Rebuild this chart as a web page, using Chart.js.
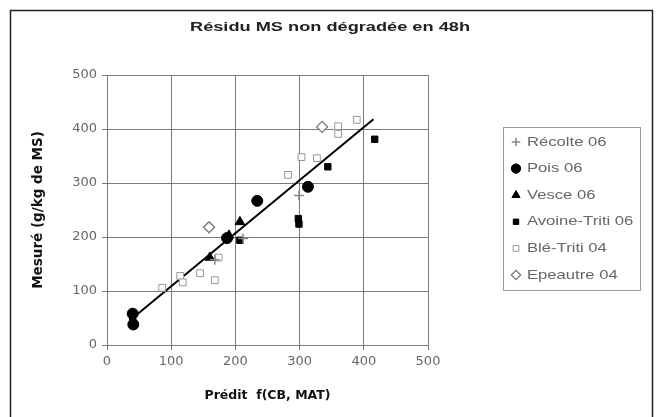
<!DOCTYPE html>
<html><head><meta charset="utf-8">
<script src="https://cdn.jsdelivr.net/npm/chart.js@4.4.0/dist/chart.umd.min.js"></script>
<style>html,body{margin:0;padding:0;background:#fff}#wrap{width:659px;height:417px}</style>
</head><body><div id="wrap"><canvas id="c" width="659" height="417"></canvas></div>
<script>
const chartTitle = 'Résidu MS non dégradée en 48h';
const seriesNames = ["Récolte 06","Pois 06","Vesce 06","Avoine-Triti 06","Blé-Triti 04","Epeautre 04"];
const recolte06 = [{x:299,y:277},{x:212,y:197},{x:168,y:158}];
const pois06 = [{x:40,y:58},{x:41,y:38},{x:187,y:198},{x:234,y:267},{x:313,y:293}];
const vesce06 = [{x:160,y:162},{x:207,y:228},{x:190,y:203}];
const avoineTriti06 = [{x:40,y:48},{x:207,y:194},{x:298,y:234},{x:299,y:224},{x:344,y:330},{x:417,y:381}];
const bleTriti04 = [{x:86,y:106},{x:114,y:128},{x:118,y:116},{x:145,y:133},{x:168,y:120},{x:174,y:162},{x:282,y:315},{x:303,y:348},{x:327,y:346},{x:360,y:405},{x:360,y:391},{x:389,y:417}];
const epeautre04 = [{x:159,y:218},{x:335,y:404}];
const regression = [{x:42,y:52},{x:415,y:418}];
const xTicks = [0,100,200,300,400,500];
const yTicks = [0,100,200,300,400,500];

const styles = [
  {pointStyle:'cross', radius:5, bg:'#888', border:'#888', bw:1.5},
  {pointStyle:'circle', radius:5.5, bg:'#000', border:'#000', bw:1},
  {pointStyle:'triangle', radius:5.5, bg:'#000', border:'#000', bw:1},
  {pointStyle:'rect', radius:4.5, bg:'#000', border:'#000', bw:1},
  {pointStyle:'rect', radius:4.8, bg:'#fff', border:'#999', bw:1},
  {pointStyle:'rectRot', radius:5.5, bg:'#fff', border:'#777', bw:1.3}
];
const dataArr = [recolte06,pois06,vesce06,avoineTriti06,bleTriti04,epeautre04];
const datasets = dataArr.map((d,i)=>({
  type:'scatter', label:seriesNames[i], data:d,
  pointStyle:styles[i].pointStyle, pointRadius:styles[i].radius,
  backgroundColor:styles[i].bg, borderColor:styles[i].border, borderWidth:styles[i].bw
}));
datasets.push({type:'line', label:'reg', data:regression, borderColor:'#000', borderWidth:2, pointRadius:0, fill:false});

function stretchedText(ctx, txt, x, y, sx, align){
  ctx.save();
  const w = ctx.measureText(txt).width*sx;
  let x0 = x;
  if(align==='center') x0 = x - w/2;
  ctx.translate(x0,y); ctx.scale(sx,1);
  ctx.textAlign='left';
  ctx.fillText(txt,0,0);
  ctx.restore();
}

const framePlugin = {
  id:'frame',
  afterDraw(chart){
    const ctx = chart.ctx;
    ctx.save();
    ctx.strokeStyle='#222'; ctx.lineWidth=1.5;
    ctx.strokeRect(10.5,10.5,642,420);
    // title
    ctx.font='bold 12px "Liberation Sans", Arial, sans-serif';
    ctx.fillStyle='#222'; ctx.textBaseline='middle';
    const tw = ctx.measureText(chartTitle).width;
    stretchedText(ctx, chartTitle, 330, 28, 280/tw, 'center');
    // legend box
    const lx=503, ly=127, lw=137, lh=163;
    ctx.strokeStyle='#999'; ctx.lineWidth=1;
    ctx.strokeRect(lx+0.5,ly+0.5,lw,lh);
    ctx.font='13px "Liberation Sans", Arial, sans-serif';
    ctx.textBaseline='middle';
    for(let i=0;i<seriesNames.length;i++){
      const cy = ly+15+i*26.6;
      const s = styles[i];
      ctx.fillStyle=s.bg; ctx.strokeStyle=s.border; ctx.lineWidth=s.bw;
      Chart.helpers.drawPoint(ctx,{pointStyle:s.pointStyle, radius:s.radius*0.85, borderWidth:s.bw}, lx+13, cy);
      ctx.fillStyle='#666';
      stretchedText(ctx, seriesNames[i], lx+24, cy, 1.28, 'left');
    }
    ctx.restore();
  }
};

const tickFont = {family:'"DejaVu Sans", sans-serif', size:13};
new Chart(document.getElementById('c'),{
  data:{datasets},
  options:{
    responsive:false, animation:false,
    layout:{padding:{left:30,right:231,top:75,bottom:14}},
    plugins:{ legend:{display:false}, tooltip:{enabled:false}, title:{display:false} },
    scales:{
      x:{type:'linear', min:0, max:500,
        afterBuildTicks(s){ s.ticks = xTicks.map(v=>({value:v})); },
        afterFit(s){ s.height=58; },
        grid:{color:'#7a7a7a', lineWidth:1, tickLength:5, drawTicks:true},
        border:{color:'#7a7a7a'},
        ticks:{color:'#666', padding:4, font:tickFont},
        title:{display:true, text:'Prédit  f(CB, MAT)', color:'#111', padding:{top:4,bottom:0},
          font:{family:'"DejaVu Sans", sans-serif', size:12.5, weight:'bold'}}
      },
      y:{type:'linear', min:0, max:500,
        afterBuildTicks(s){ s.ticks = yTicks.map(v=>({value:v})); },
        afterFit(s){ s.width=77; },
        grid:{color:'#7a7a7a', lineWidth:1, tickLength:5, drawTicks:true},
        border:{color:'#7a7a7a'},
        ticks:{color:'#666', padding:5, font:tickFont},
        title:{display:true, text:'Mesuré (g/kg de MS)', color:'#111', padding:{top:0,bottom:0},
          font:{family:'"DejaVu Sans", sans-serif', size:13.5, weight:'bold'}}
      }
    }
  },
  plugins:[framePlugin]
});
</script></body></html>
